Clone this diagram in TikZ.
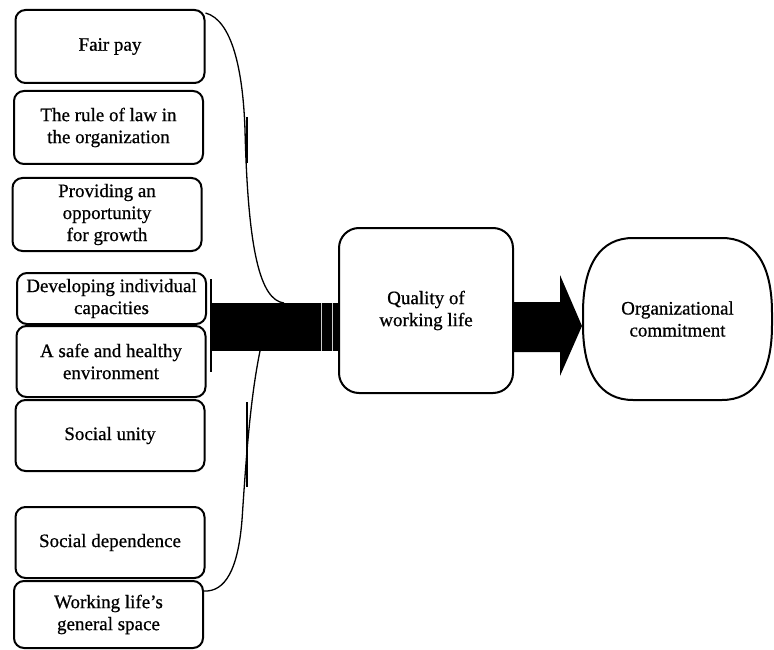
\documentclass[tikz,border=0pt]{standalone}
\usepackage{fontspec}
\setmainfont{Liberation Serif}[FakeBold=0.7]
\begin{document}
\begin{tikzpicture}[x=1pt,y=-1pt,
    factor/.style={draw, line width=2pt, rounded corners=10pt, minimum width=189pt, inner sep=2pt, align=center, font=\fontsize{19}{22}\selectfont},
    core/.style={line width=2pt, align=center, font=\fontsize{19}{22}\selectfont}]
    \useasboundingbox (0,0) rectangle (774,650);
    %factors
    \node[factor, minimum height=73pt] (fair) at (110,46.5) {Fair pay};
    \node[factor, minimum height=73pt] (law) at (108.5,127.5) {The rule of law in\\the organization};
    \node[factor, minimum height=73pt] (grow) at (107,214.5) {Providing an\\opportunity\\for growth};
    \node[factor, minimum height=51pt] (dev) at (111.5,298.5) {Developing individual\\capacities};
    \node[factor, minimum height=71pt] (safe) at (111,361.5) {A safe and healthy\\environment};
    \node[factor, minimum height=71pt] (unity) at (110,435.5) {Social unity};
    \node[factor, minimum height=71pt] (dep) at (110,542.5) {Social dependence};
    \node[factor, minimum height=67pt] (work) at (108.5,614.5) {Working life's\\general space};
    %main boxes
    \node[core, draw, rounded corners=20pt, minimum width=174pt, minimum height=165pt] (qwl) at (426,310.5) {Quality of\\working life};
    \node[core, minimum width=189pt, minimum height=162pt] (org) at (677.5,319) {Organizational\\commitment};
    \draw [line width=2pt] (633,238) -- (722,238) .. controls (754.5,238) and (772,264) .. (772,313) -- (772,325) .. controls (772,374) and (754.5,400) .. (722,400) -- (633,400) .. controls (600.5,400) and (583,374) .. (583,325) -- (583,313) .. controls (583,264) and (600.5,238) .. cycle;
    %bracket and bar
    \coordinate (bartop) at (212,303);
    \coordinate (jtop) at (284,303);
    \coordinate (jbot) at (260,351);
    \draw [line width=1.5pt] (211,279) -- (211,372);
    \fill (bartop) rectangle (qwl.west |- 0,351);
    \draw [gray!40, line width=1pt] (321,303) -- (321,351);
    \draw [gray!40, line width=1pt] (332,303) -- (332,351);
    %curves
    \draw [line width=1.3pt] ([yshift=-4pt]fair.north east) .. controls (232,20) and (243,70) .. (245,130) .. controls (248,250) and (260,300) .. (jtop);
    \draw [line width=1.5pt] (247,117) -- (247,163);
    \draw [line width=1.3pt] (jbot) .. controls (250,400) and (246,460) .. (242,520) .. controls (238,570) and (225,592) .. ([yshift=-11pt]work.north east);
    \draw [line width=1.5pt] (247,402) -- (247,487);
    %arrow
    \fill (qwl.east |- 0,302) -- (560,302) -- (560,275) -- (org.west |- 0,326) -- (560,376) -- (560,352) -- (qwl.east |- 0,352) -- cycle;
\end{tikzpicture}
\end{document}
